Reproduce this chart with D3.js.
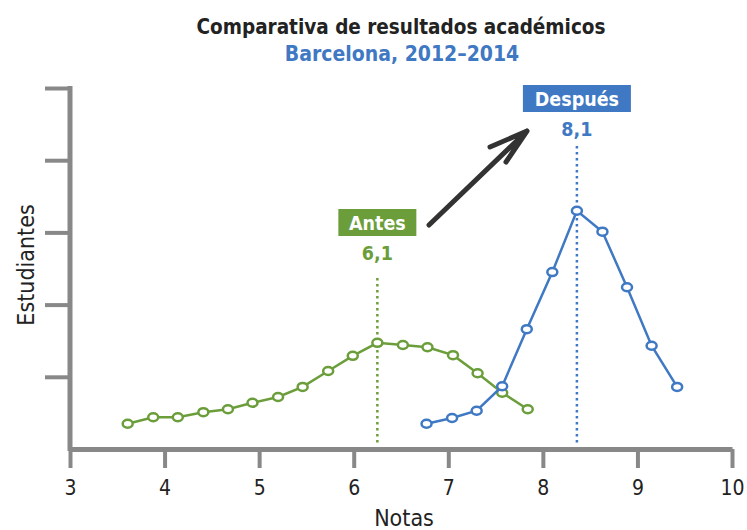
<!DOCTYPE html>
<html><head><meta charset="utf-8">
<script src="https://cdn.jsdelivr.net/npm/d3@7"></script>
<style>
body{margin:0;background:#fff;}
text{font-family:"DejaVu Sans Condensed","Liberation Sans Narrow","DejaVu Sans",sans-serif;}
</style></head>
<body><svg id="c" width="747" height="530"></svg>
<script>
const title = "Comparativa de resultados académicos";
const subtitle = "Barcelona, 2012–2014";
const xLabel = "Notas";
const yLabel = "Estudiantes";
const xTicks = [3,4,5,6,7,8,9,10];
const yTicks = [1,2,3,4,5];
const antesX = [3.61,3.88,4.14,4.41,4.67,4.93,5.20,5.46,5.73,5.99,6.25,6.52,6.78,7.05,7.31,7.57,7.84];
const antesY = [0.35,0.44,0.44,0.51,0.55,0.64,0.72,0.86,1.08,1.29,1.47,1.44,1.41,1.30,1.05,0.78,0.55];
const despuesX = [6.77,7.04,7.30,7.57,7.83,8.10,8.36,8.63,8.89,9.15,9.42];
const despuesY = [0.35,0.43,0.53,0.87,1.66,2.45,3.30,3.01,2.24,1.43,0.86];
const antesLabel = "Antes", antesValue = "6,1", antesPeak = 6.25;
const despuesLabel = "Después", despuesValue = "8,1", despuesPeak = 8.36;

const green = "#6b9e3b", blue = "#3f78c3", axisCol = "#888888", txt = "#222222";
const svg = d3.select("#c");
const x = d3.scaleLinear().domain([3,10]).range([70,732]);
const y = d3.scaleLinear().domain([0,5]).range([449,88]);

// title
svg.append("text").attr("x",401).attr("y",34).attr("text-anchor","middle")
  .attr("font-size",20.5).attr("font-weight","bold").attr("fill",txt).text(title);
svg.append("text").attr("x",402).attr("y",61).attr("text-anchor","middle")
  .attr("font-size",21).attr("font-weight","bold").attr("fill",blue).text(subtitle);

// axes
const gx = svg.append("g").attr("transform",`translate(0,${y(0)})`)
  .call(d3.axisBottom(x).tickValues(xTicks).tickFormat(d3.format("d")).tickSize(19).tickSizeOuter(0).tickPadding(12));
gx.select(".domain").attr("stroke",axisCol).attr("stroke-width",5);
gx.selectAll(".tick line").attr("stroke",axisCol).attr("stroke-width",4);
gx.selectAll(".tick text").attr("font-size",21).attr("fill",txt).attr("font-family","DejaVu Sans Condensed");
const gy = svg.append("g").attr("transform",`translate(${x(3)},0)`)
  .call(d3.axisLeft(y).tickValues(yTicks).tickSize(25).tickSizeOuter(0).tickFormat(""));
gy.select(".domain").attr("stroke",axisCol).attr("stroke-width",5).attr("d",`M0,${y(5)-2}V${y(0)+2}`);
gy.selectAll(".tick line").attr("stroke",axisCol).attr("stroke-width",4);

svg.append("text").attr("x",404).attr("y",526).attr("text-anchor","middle")
  .attr("font-size",23).attr("fill",txt).attr("font-family","Open Sans").text(xLabel);
svg.append("text").attr("transform",`translate(34,${265}) rotate(-90)`).attr("text-anchor","middle")
  .attr("font-size",23).attr("fill",txt).attr("font-family","Open Sans").text(yLabel);

// peak dotted lines
function peak(px, top, col){
  svg.append("line").attr("x1",x(px)).attr("x2",x(px)).attr("y1",top).attr("y2",y(0)-3)
    .attr("stroke",col).attr("stroke-width",2.5).attr("stroke-dasharray","2.5,3.5");
}
peak(antesPeak, 278, green);
peak(despuesPeak, 146, blue);

// series
function series(xs, ys, col){
  const pts = xs.map((v,i)=>[v,ys[i]]);
  svg.append("path").datum(pts).attr("fill","none").attr("stroke",col).attr("stroke-width",2.5)
    .attr("d",d3.line().x(d=>x(d[0])).y(d=>y(d[1])));
  svg.selectAll(null).data(pts).enter().append("ellipse")
    .attr("cx",d=>x(d[0])).attr("cy",d=>y(d[1])).attr("rx",5).attr("ry",4)
    .attr("fill","#fff").attr("stroke",col).attr("stroke-width",2.5);
}
series(antesX, antesY, green);
series(despuesX, despuesY, blue);

// labels
function label(px, boxY, w, name, val, col){
  const cx = x(px);
  svg.append("rect").attr("x",cx-w/2).attr("y",boxY).attr("width",w).attr("height",27).attr("fill",col);
  svg.append("text").attr("x",cx).attr("y",boxY+21).attr("text-anchor","middle")
    .attr("font-size",19.5).attr("font-weight","bold").attr("fill","#fff").text(name);
  svg.append("text").attr("x",cx).attr("y",boxY+51).attr("text-anchor","middle")
    .attr("font-size",19.5).attr("font-weight","bold").attr("fill",col).text(val);
}
label(antesPeak, 209, 78, antesLabel, antesValue, green);
label(despuesPeak, 85, 108, despuesLabel, despuesValue, blue);

// arrow
svg.append("path").attr("d","M429,225L527,131M490,147L527,131L506,162")
  .attr("fill","none").attr("stroke","#333").attr("stroke-width",5).attr("stroke-linecap","round").attr("stroke-linejoin","round");
</script></body></html>
